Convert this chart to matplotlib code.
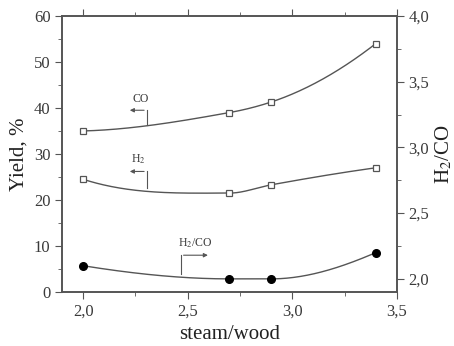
import numpy as np
import matplotlib.pyplot as plt
from matplotlib.ticker import MultipleLocator, FuncFormatter

plt.rcParams['font.family'] = ['Liberation Serif', 'DejaVu Serif']
plt.rcParams['mathtext.fontset'] = 'stix'

steam_wood = [2.0, 2.7, 2.9, 3.4]
co_yield = [35.0, 39.0, 41.3, 54.0]
h2_yield = [24.5, 21.5, 23.3, 27.0]
h2_co = [2.10, 2.00, 2.00, 2.20]

GRAY = '#555555'
TXT = '#3a3a3a'

comma = FuncFormatter(lambda v, p: f'{v:.1f}'.replace('.', ','))


def pchip(x, y, n=300):
    # monotone cubic (Fritsch-Carlson), keeps flat parts flat
    x = np.asarray(x, float)
    y = np.asarray(y, float)
    h = np.diff(x)
    d = np.diff(y) / h
    m = np.zeros_like(y)
    for k in range(1, len(x) - 1):
        if d[k - 1] * d[k] > 0:
            w1 = 2 * h[k] + h[k - 1]
            w2 = h[k] + 2 * h[k - 1]
            m[k] = (w1 + w2) / (w1 / d[k - 1] + w2 / d[k])
    m[0] = ((2 * h[0] + h[1]) * d[0] - h[0] * d[1]) / (h[0] + h[1])
    if np.sign(m[0]) != np.sign(d[0]):
        m[0] = 0
    m[-1] = ((2 * h[-1] + h[-2]) * d[-1] - h[-1] * d[-2]) / (h[-1] + h[-2])
    if np.sign(m[-1]) != np.sign(d[-1]):
        m[-1] = 0
    xs = np.linspace(x[0], x[-1], n)
    i = np.clip(np.searchsorted(x, xs) - 1, 0, len(x) - 2)
    t = (xs - x[i]) / h[i]
    h00 = 2 * t**3 - 3 * t**2 + 1
    h10 = t**3 - 2 * t**2 + t
    h01 = -2 * t**3 + 3 * t**2
    h11 = t**3 - t**2
    ys = h00 * y[i] + h10 * h[i] * m[i] + h01 * y[i + 1] + h11 * h[i] * m[i + 1]
    return xs, ys


fig = plt.figure(figsize=(4.54, 3.46), dpi=100)
ax = fig.add_axes([0.137, 0.156, 0.737, 0.798])
ax2 = ax.twinx()

for yv in (co_yield, h2_yield):
    xs, ys = pchip(steam_wood, yv)
    ax.plot(xs, ys, color=GRAY, lw=1.0)
    ax.plot(steam_wood, yv, ls='none', marker='s', ms=5, mfc='white', mec=GRAY, mew=0.9)

xs, ys = pchip(steam_wood, h2_co)
ax2.plot(xs, ys, color=GRAY, lw=1.0)
ax2.plot(steam_wood, h2_co, ls='none', marker='o', ms=5.5, color='black')

ax.set_xlim(1.9, 3.5)
ax.set_ylim(0, 60)
ax2.set_ylim(1.9, 4.0)

ax.xaxis.set_major_locator(MultipleLocator(0.5))
ax.xaxis.set_minor_locator(MultipleLocator(0.25))
ax.xaxis.set_major_formatter(comma)
ax.yaxis.set_major_locator(MultipleLocator(10))
ax.yaxis.set_minor_locator(MultipleLocator(5))
ax2.yaxis.set_major_locator(MultipleLocator(0.5))
ax2.yaxis.set_minor_locator(MultipleLocator(0.25))
ax2.yaxis.set_major_formatter(comma)

ax.tick_params(axis='both', which='both', colors=GRAY, labelcolor=TXT, labelsize=12)
ax.tick_params(axis='x', which='both', top=True, direction='in')
ax.tick_params(axis='x', which='both', bottom=True, direction='out')
ax.tick_params(which='major', length=5)
ax.tick_params(which='minor', length=3)
ax2.tick_params(which='both', colors=GRAY, labelcolor=TXT, labelsize=12)
ax2.tick_params(which='major', length=5)
ax2.tick_params(which='minor', length=3)
for a in (ax, ax2):
    for s in a.spines.values():
        s.set_color(GRAY)
        s.set_linewidth(1.2)

ax.set_xlabel('steam/wood', fontsize=15, color='#222222', labelpad=4)
ax.set_ylabel('Yield, %', fontsize=15, color='#222222', labelpad=4)
ax2.set_ylabel('H$_2$/CO', fontsize=15, color='#222222', labelpad=3)

# leader arrows
arr = dict(arrowstyle='-|>', color=GRAY, lw=0.8, mutation_scale=6)
ax.plot([2.305, 2.305], [36.3, 39.5], color=GRAY, lw=0.8)
ax.annotate('', xy=(2.21, 39.5), xytext=(2.305, 39.5), arrowprops=arr)
ax.text(2.275, 40.7, 'CO', fontsize=8.5, color=TXT, ha='center', va='bottom')

ax.plot([2.305, 2.305], [22.6, 26.2], color=GRAY, lw=0.8)
ax.annotate('', xy=(2.21, 26.2), xytext=(2.305, 26.2), arrowprops=arr)
ax.text(2.265, 27.3, 'H$_2$', fontsize=8.5, color=TXT, ha='center', va='bottom')

ax.plot([2.467, 2.467], [3.9, 8.0], color=GRAY, lw=0.8)
ax.annotate('', xy=(2.61, 8.0), xytext=(2.467, 8.0), arrowprops=arr)
ax.text(2.535, 9.1, 'H$_2$/CO', fontsize=8.5, color=TXT, ha='center', va='bottom')

fig.savefig('out.png', dpi=100)
